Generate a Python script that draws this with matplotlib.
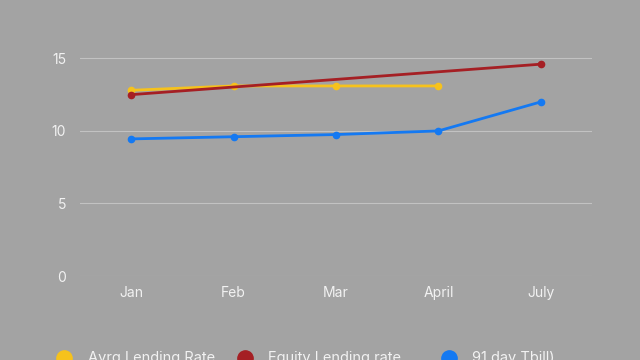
import matplotlib
matplotlib.use("Agg")
import matplotlib.pyplot as plt
from matplotlib.lines import Line2D

# data
months = ["Jan", "Feb", "Mar", "April", "July"]
avrg_lending = [12.8, 13.1, 13.1, 13.1]          # Jan..April
equity_months = ["Jan", "July"]
equity_lending = [12.5, 14.6]
tbill_91 = [9.45, 9.6, 9.75, 10.0, 12.0]
series_names = ["Avrg Lending Rate", "Equity Lending rate", "91 day Tbill)"]

bg = "#a3a3a3"
c_yellow = "#f6c21c"
c_red = "#a51f24"
c_blue = "#1479f2"
colors = [c_yellow, c_red, c_blue]

plt.rcParams['font.family'] = ['Inter', 'DejaVu Sans']

fig = plt.figure(figsize=(6.4, 3.6), dpi=100, facecolor=bg)
ax = fig.add_axes([0.125, 0.2333, 0.8, 0.665], facecolor=bg)

x = list(range(len(months)))
ax.plot(x[:len(avrg_lending)], avrg_lending, color=c_yellow, lw=2, marker='o', ms=4.5, zorder=3)
ax.plot([months.index(m) for m in equity_months], equity_lending, color=c_red, lw=2, marker='o', ms=4.5, zorder=3)
ax.plot(x, tbill_91, color=c_blue, lw=2, marker='o', ms=4.5, zorder=4)

ax.set_xlim(-0.5, 4.5)
ax.set_ylim(0, 16.5)
ax.set_yticks([0, 5, 10, 15])
ax.set_xticks(x)
ax.set_xticklabels(months)
ax.grid(axis='y', color='#c2c2c2', lw=0.8)
ax.set_axisbelow(True)
for s in ax.spines.values():
    s.set_visible(False)
ax.tick_params(length=0, colors='#f2f2f2', labelsize=10)
ax.tick_params(axis='y', pad=10)
ax.tick_params(axis='x', pad=7)

# legend at the bottom, laid out like the original (partly cut by the edge)
leg_y = 1 - 358 / 360
marker_x = [64, 245, 449]
text_x = [88, 268, 472]
for mx, tx, c, name in zip(marker_x, text_x, colors, series_names):
    fig.add_artist(Line2D([mx / 640], [leg_y], ls='none', marker='o', ms=11, color=c,
                          transform=fig.transFigure))
    fig.text(tx / 640, leg_y, name, color='#f2f2f2', fontsize=10.5, ha='left', va='center')

fig.savefig("out.png", dpi=100, facecolor=bg)
